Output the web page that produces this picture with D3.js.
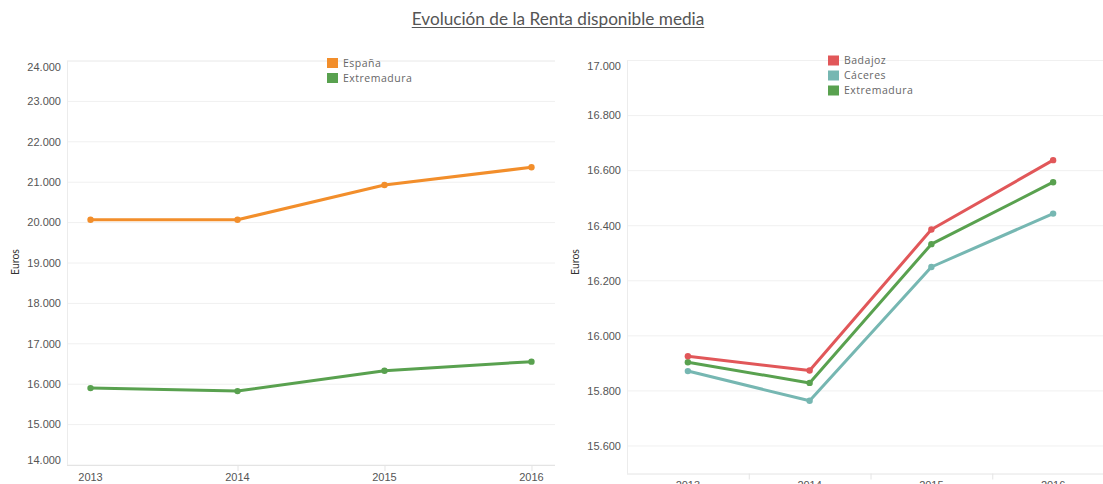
<!DOCTYPE html>
<html>
<head>
<meta charset="utf-8">
<script src="https://cdn.jsdelivr.net/npm/d3@7"></script>
<style>
  body { margin: 0; background: #fff; }
  svg { display: block; }
  .tick-label { font-family: "Liberation Sans", Arial, sans-serif; font-size: 11px; fill: #555; }
  .legend-label { font-family: "Open Sans", sans-serif; font-size: 10.5px; fill: #666; letter-spacing: 0.5px; }
</style>
</head>
<body>
<svg id="chart"></svg>
<script>
// data
const years = ['2013', '2014', '2015', '2016'];

const espana      = [20072, 20070, 20931, 21369];
const extremadura = [15904, 15829, 16333, 16558];
const badajoz     = [15926, 15874, 16386, 16638];
const caceres     = [15872, 15764, 16250, 16444];

const leftTicks  = [14000, 15000, 16000, 17000, 18000, 19000, 20000, 21000, 22000, 23000, 24000];
const rightTicks = [15600, 15800, 16000, 16200, 16400, 16600, 16800, 17000];

const colors = {
  'España': '#f28e2b',
  'Extremadura': '#59a14f',
  'Badajoz': '#e15759',
  'Cáceres': '#76b7b2'
};

const width = 1103, height = 484;
const es = d3.formatLocale({decimal: ',', thousands: '.', grouping: [3], currency: ['', ' €']});
const fmt = es.format(',d');

const svg = d3.select('#chart')
  .attr('width', width)
  .attr('height', height);

// title
const title = svg.append('text')
  .attr('x', 558)
  .attr('y', 25)
  .attr('text-anchor', 'middle')
  .style('font-family', 'Lato, sans-serif')
  .style('font-size', '17.2px')
  .style('fill', '#555')
  .text('Evolución de la Renta disponible media');
const tb = title.node().getBBox();
svg.append('line')
  .attr('x1', tb.x).attr('x2', tb.x + tb.width)
  .attr('y1', 27.5).attr('y2', 27.5)
  .attr('stroke', '#555').attr('stroke-width', 1);

function panel(opt) {
  const g = svg.append('g');
  const y = d3.scaleLinear().domain(opt.domain).range([opt.bottom, opt.top]);
  const x = opt.x;

  // grid
  g.selectAll('.grid')
    .data(opt.ticks)
    .enter()
    .append('line')
    .attr('x1', opt.left).attr('x2', opt.right)
    .attr('y1', d => y(d)).attr('y2', d => y(d))
    .attr('stroke', '#f0f0f0');
  // top line
  g.append('line')
    .attr('x1', opt.left).attr('x2', opt.right)
    .attr('y1', opt.top).attr('y2', opt.top)
    .attr('stroke', '#f0f0f0');
  // left frame
  g.append('line')
    .attr('x1', opt.left + 0.5).attr('x2', opt.left + 0.5)
    .attr('y1', opt.top).attr('y2', opt.bottom)
    .attr('stroke', '#ececec');
  // bottom axis line
  g.append('line')
    .attr('x1', opt.left).attr('x2', opt.right)
    .attr('y1', opt.bottom + 0.5).attr('y2', opt.bottom + 0.5)
    .attr('stroke', '#e4e4e4');

  // y labels (first/last pushed inside the frame)
  g.selectAll('.ylab')
    .data(opt.ticks)
    .enter()
    .append('text')
    .attr('class', 'tick-label')
    .attr('x', opt.left - 6)
    .attr('y', d => {
      let p = y(d);
      if (p - opt.top < 6) p = opt.top + 6;
      if (opt.bottom - p < 6) p = opt.bottom - 5;
      return p;
    })
    .attr('dy', '0.35em')
    .attr('text-anchor', 'end')
    .text(d => fmt(d));

  // axis title
  g.append('text')
    .attr('transform', `translate(${opt.titleX},262) rotate(-90)`)
    .attr('text-anchor', 'middle')
    .attr('dy', '0.35em')
    .style('font-family', 'Lato, sans-serif')
    .style('font-size', '10.5px')
    .style('fill', '#333')
    .text('Euros');

  // x labels
  const off = x.bandwidth ? x.bandwidth() / 2 : 0;
  g.selectAll('.xlab')
    .data(years)
    .enter()
    .append('text')
    .attr('class', 'tick-label')
    .attr('x', d => x(d) + off)
    .attr('y', opt.xLabelY)
    .attr('dy', '0.35em')
    .attr('text-anchor', 'middle')
    .text(d => d);

  if (x.bandwidth) {
    g.selectAll('.sep')
      .data(years.slice(1))
      .enter()
      .append('line')
      .attr('x1', d => x(d) + 0.5).attr('x2', d => x(d) + 0.5)
      .attr('y1', opt.bottom).attr('y2', opt.bottom + 6)
      .attr('stroke', '#e4e4e4');
  } else {
    // faint minor ticks on the bottom axis
    g.selectAll('.minor')
      .data(d3.range(opt.left + 8, opt.right, 12))
      .enter()
      .append('line')
      .attr('x1', d => d + 0.5).attr('x2', d => d + 0.5)
      .attr('y1', opt.bottom).attr('y2', opt.bottom + 2)
      .attr('stroke', '#ececec');
  }

  const line = d3.line()
    .x((d, i) => x(years[i]) + off)
    .y(d => y(d));

  opt.series.forEach(s => {
    g.append('path')
      .datum(s.values)
      .attr('d', line)
      .attr('fill', 'none')
      .attr('stroke', colors[s.name])
      .attr('stroke-width', 3)
      .attr('stroke-linejoin', 'round');
    g.selectAll(null)
      .data(s.values)
      .enter()
      .append('circle')
      .attr('cx', (d, i) => x(years[i]) + off)
      .attr('cy', d => y(d))
      .attr('r', 3.2)
      .attr('fill', colors[s.name]);
  });

  // legend
  const lg = g.append('g').attr('transform', `translate(${opt.legendX},${opt.legendY})`);
  opt.legend.forEach((name, i) => {
    lg.append('rect')
      .attr('x', 0).attr('y', i * 15)
      .attr('width', 11).attr('height', 10)
      .attr('fill', colors[name]);
    lg.append('text')
      .attr('class', 'legend-label')
      .attr('x', 16).attr('y', i * 15 + 5)
      .attr('dy', '0.35em')
      .text(name);
  });
}

// left panel
panel({
  left: 67, right: 555, top: 61, bottom: 465,
  domain: [14000, 24000],
  ticks: leftTicks,
  x: d3.scalePoint().domain(years).range([67, 555]).padding(0.16),
  xLabelY: 477,
  titleX: 15,
  series: [
    {name: 'España', values: espana},
    {name: 'Extremadura', values: extremadura}
  ],
  legend: ['España', 'Extremadura'],
  legendX: 327, legendY: 58
});

// right panel (year labels run off the bottom edge, as in the original)
panel({
  left: 627, right: 1114, top: 60.5, bottom: 473.5,
  domain: [15500, 17000],
  ticks: rightTicks,
  x: d3.scaleBand().domain(years).range([627, 1114]),
  xLabelY: 485,
  titleX: 575,
  series: [
    {name: 'Cáceres', values: caceres},
    {name: 'Extremadura', values: extremadura},
    {name: 'Badajoz', values: badajoz}
  ],
  legend: ['Badajoz', 'Cáceres', 'Extremadura'],
  legendX: 828, legendY: 55.5
});
</script>
</body>
</html>
